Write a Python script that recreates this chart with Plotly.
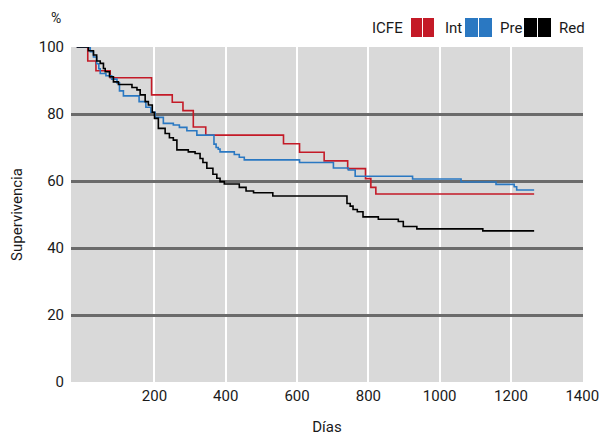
import plotly.graph_objects as go

# ---- data (days, survival %) ----
int_days = [-18, 13, 36, 76, 192, 250, 280, 309, 344, 562, 607, 676, 742, 792, 807, 821, 1265]
int_surv = [100, 95.8, 92.9, 90.8, 85.7, 83.5, 81.0, 76.1, 73.7, 71.1, 68.6, 66.0, 63.7, 60.7, 58.1, 56.1, 56.1]

pre_days = [-18, 20, 29, 38, 44, 48, 64, 80, 95, 102, 113, 157, 176, 190, 202, 225, 253, 270, 291, 319,
            367, 373, 379, 384, 424, 438, 452, 607, 702, 744, 763, 924, 1060, 1158, 1209, 1216, 1265]
pre_surv = [100, 98.6, 97.0, 95.0, 93.5, 92.1, 91.4, 90.4, 89.3, 86.9, 85.4, 83.7, 82.0, 80.5, 79.0, 77.2, 76.7, 76.0, 75.0, 73.7,
            71.0, 70.0, 69.5, 68.7, 67.9, 67.1, 66.3, 65.5, 63.9, 63.3, 61.4, 60.6, 59.7, 59.0, 58.3, 57.3, 57.3]

red_days = [-18, 15, 29, 38, 48, 57, 62, 74, 85, 99, 137, 151, 160, 174, 183, 194, 200, 211, 230, 242, 253, 263,
            295, 314, 328, 336, 347, 364, 375, 384, 396, 438, 457, 478, 532, 740, 749, 757, 769, 785, 828, 884,
            898, 936, 1121, 1265]
red_surv = [100, 98.9, 97.6, 95.8, 95.1, 93.6, 92.6, 91.1, 89.6, 88.8, 87.9, 87.2, 85.7, 83.7, 82.7, 80.5, 78.7, 75.7, 74.2, 72.9, 72.2, 69.3,
            68.7, 68.2, 66.7, 65.5, 63.8, 62.0, 60.8, 59.8, 59.1, 58.1, 57.0, 56.5, 55.5, 53.3, 52.5, 51.5, 50.8, 49.3, 48.6, 47.9,
            46.4, 45.7, 45.1, 45.1]

series_names = ["Int", "Pre", "Red"]
series_colors = ["#c41a27", "#2a78c2", "#000000"]
legend_title = "ICFE"

x_ticks = [200, 400, 600, 800, 1000, 1200, 1400]
x_grid = [200, 400, 600, 800, 1000, 1200]
y_ticks = [0, 20, 40, 60, 80, 100]
y_grid = [20, 40, 60, 80]

FONT = "Roboto, sans-serif"
FS = 15
TXT = "#1a1a1a"

fig = go.Figure()
for name, color, xs, ys in zip(series_names, series_colors,
                               [int_days, pre_days, red_days],
                               [int_surv, pre_surv, red_surv]):
    fig.add_trace(go.Scatter(x=xs, y=ys, mode="lines", name=name,
                             line=dict(color=color, width=1.6, shape="hv"),
                             showlegend=False))

# custom legend: "ICFE" label and double boxes (positions in page pixels)
box_specs = [(411, 434, 442.5), (465, 492, 497.5), (524, 551, 556.5)]
L, W, B, H = 71, 512, 382, 335  # plot area in page pixels
def px2x(p):
    return (p - L) / W
def py2y(p):
    return (B - p) / H

fig.add_annotation(x=px2x(405), y=py2y(28), xref="paper", yref="paper", text=legend_title,
                   showarrow=False, xanchor="right", yanchor="middle",
                   font=dict(family=FONT, size=FS, color=TXT))
for (x0, x1, tx), name, color in zip(box_specs, series_names, series_colors):
    xm = (x0 + x1) / 2
    for a, b in [(x0, xm - 0.5), (xm + 0.5, x1)]:
        fig.add_shape(type="rect", xref="paper", yref="paper",
                      x0=px2x(a), x1=px2x(b), y0=py2y(37), y1=py2y(18),
                      fillcolor=color, line=dict(width=0))
    fig.add_annotation(x=px2x(tx), y=py2y(28), xref="paper", yref="paper", text=name,
                       showarrow=False, xanchor="left", yanchor="middle",
                       font=dict(family=FONT, size=FS, color=TXT))

fig.add_annotation(x=px2x(56), y=py2y(18), xref="paper", yref="paper", text="%",
                   showarrow=False, xanchor="center", yanchor="middle", borderpad=0,
                   font=dict(family=FONT, size=14, color=TXT))

# page has an 8px body margin, so the figure is 8px smaller and margins shifted
fig.update_layout(
    width=599, height=428,
    margin=dict(l=63, r=24, t=39, b=54),
    paper_bgcolor="white", plot_bgcolor="#d9d9d9",
    font=dict(family=FONT, size=FS, color=TXT),
    xaxis=dict(range=[-34, 1402], tickvals=x_ticks, ticktext=[str(v) for v in x_ticks],
               showgrid=False, zeroline=False, showline=False, ticks="", automargin=False,
               ticklabeloverflow="allow", ticklabelstandoff=3,
               minor=dict(tickvals=x_grid, showgrid=True, gridcolor="white", gridwidth=2),
               title=dict(text="Días", font=dict(family=FONT, size=FS), standoff=23)),
    yaxis=dict(range=[0, 100], tickvals=y_ticks, ticktext=[str(v) for v in y_ticks],
               showgrid=False, zeroline=False, showline=False, ticks="", automargin=False,
               ticklabelstandoff=6,
               minor=dict(tickvals=y_grid, showgrid=True, gridcolor="#6b6b6b", gridwidth=2.5),
               title=dict(text="Supervivencia", font=dict(family=FONT, size=FS), standoff=12)),
)

fig.write_html("out.html")
